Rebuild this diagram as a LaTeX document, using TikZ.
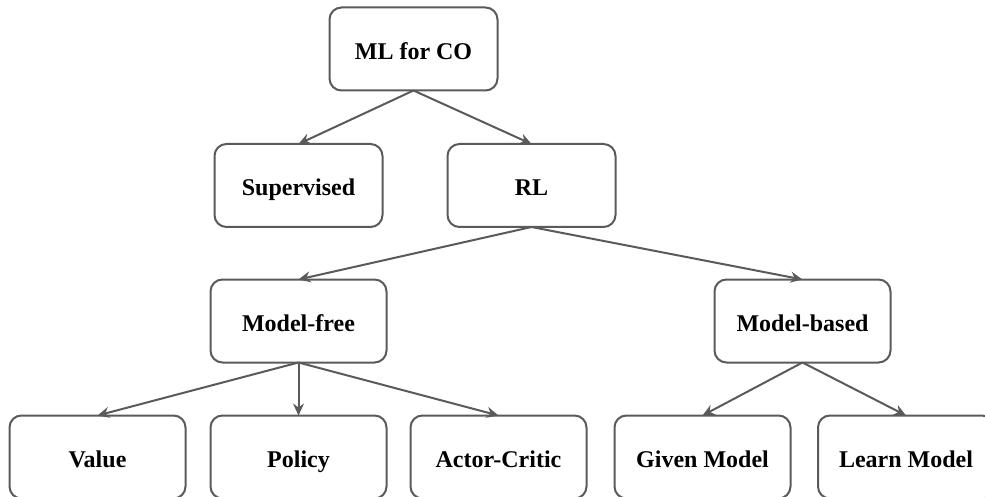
\documentclass[tikz,border=0pt]{standalone}
\usepackage{fontspec}
\setmainfont{Liberation Serif}
\usetikzlibrary{arrows.meta}
\definecolor{edgegray}{RGB}{90,90,90}
\begin{document}
\begin{tikzpicture}[x=1pt,y=-1pt,
  box/.style={draw=edgegray, line width=2pt, rounded corners=12pt,
    minimum height=83pt, inner sep=0pt, outer sep=0pt,
    text height=21pt, text depth=0pt,
    font=\fontsize{24}{28}\selectfont\bfseries, text=black},
  narrow/.style={box, minimum width=168pt},
  wide/.style={box, minimum width=176pt},
  conn/.style={draw=edgegray, line width=2pt,
    -{Stealth[length=12pt,width=11pt,inset=4pt]}}]
\clip (0,0) rectangle (985,497);
\node[narrow] (ml) at (413.5,49) {ML for CO};
\node[narrow] (sup) at (298.5,185.5) {Supervised};
\node[narrow] (rl) at (531.5,185.5) {RL};
\node[wide] (mf) at (298.5,321) {Model-free};
\node[wide] (mb) at (802.5,321) {Model-based};
\node[wide] (val) at (97.5,457) {Value};
\node[wide] (pol) at (298.5,457) {Policy};
\node[wide] (ac) at (498.5,457) {Actor-Critic};
\node[wide] (gm) at (702.5,457) {Given Model};
\node[wide] (lm) at (906,457) {Learn Model};
\draw[conn] (ml.south) -- (sup.north);
\draw[conn] (ml.south) -- (rl.north);
\draw[conn] (rl.south) -- (mf.north);
\draw[conn] (rl.south) -- (mb.north);
\draw[conn] (mf.south) -- (val.north);
\draw[conn] (mf.south) -- (pol.north);
\draw[conn] (mf.south) -- (ac.north);
\draw[conn] (mb.south) -- (gm.north);
\draw[conn] (mb.south) -- (lm.north);
\end{tikzpicture}
\end{document}
